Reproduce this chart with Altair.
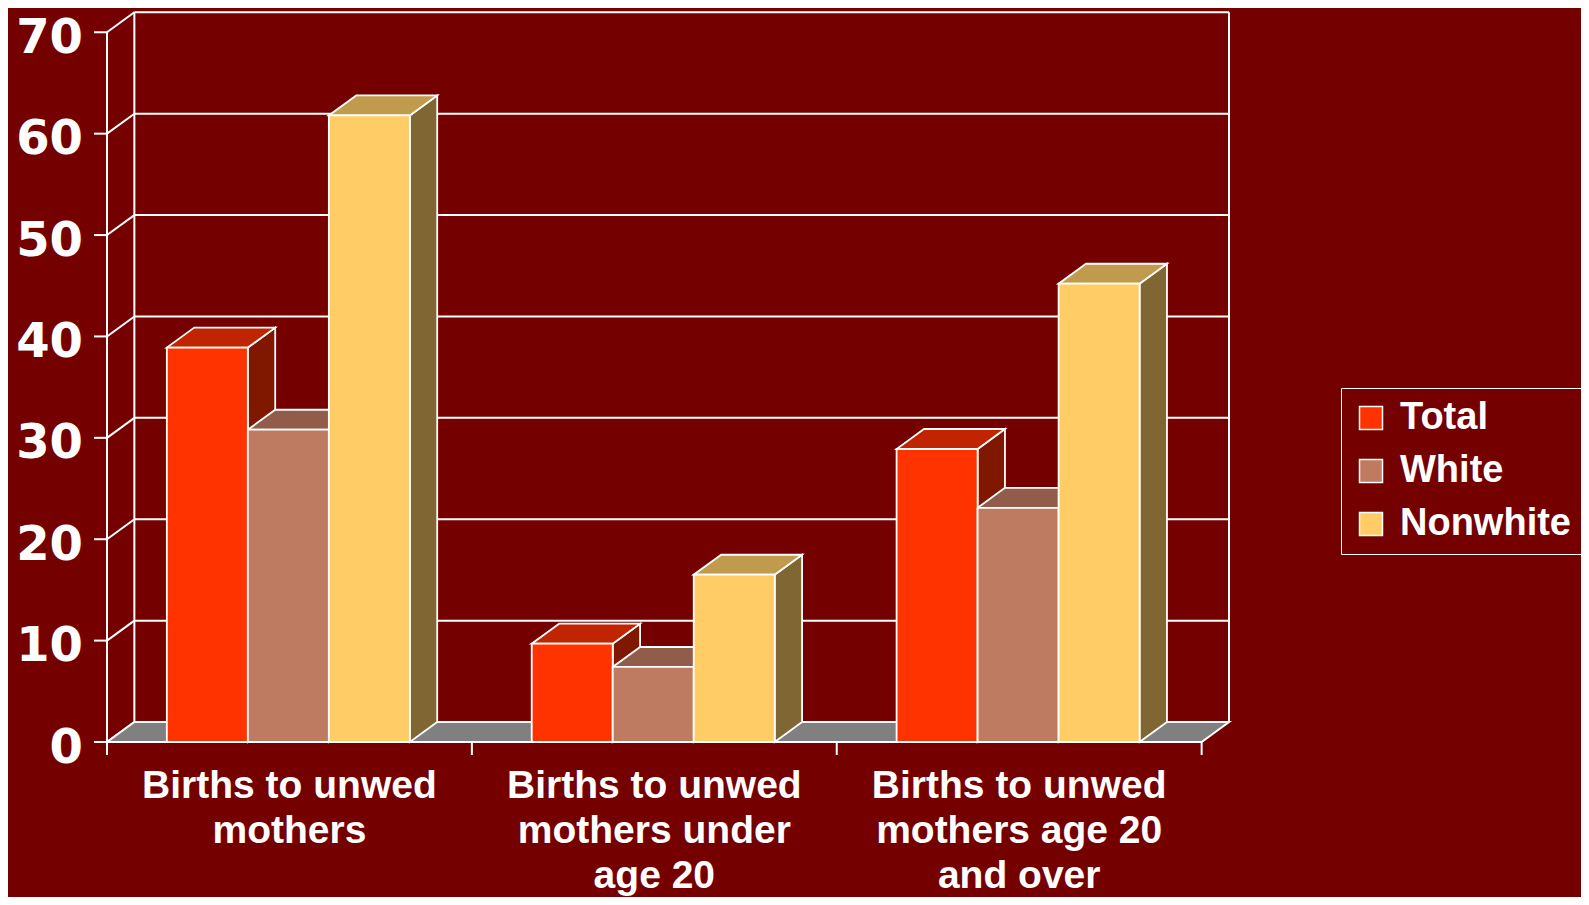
import altair as alt
import pandas as pd

# ---------------- data ----------------
CATEGORIES = [
    "Births to unwed\nmothers",
    "Births to unwed\nmothers under\nage 20",
    "Births to unwed\nmothers age 20\nand over",
]
SERIES = ["Total", "White", "Nonwhite"]
TOTAL = [38.9, 9.7, 28.9]
WHITE = [30.8, 7.4, 23.1]
NONWHITE = [61.8, 16.5, 45.2]
Y_TICKS = [0, 10, 20, 30, 40, 50, 60, 70]

# ---------------- style / layout ----------------
BG = "#740000"
FRONT_COLORS = ["#FF3300", "#BF7A62", "#FFCC66"]
TOP_COLORS = ["#C02400", "#925C4A", "#C09B4E"]
SIDE_COLORS = ["#801800", "#604033", "#806633"]
FLOOR = "#808080"
LINE = "white"
FONT = "Liberation Sans"
NUM_FONT = "DejaVu Sans"

PAD = 0.164      # gap at each side of a group (category units)
BW = 0.222       # bar width (category units)
DXU = 0.075      # depth offset along x (category units)
DYU = 1.97       # depth offset along y (value units)
Y_MAX = 72
X_UNIT = 364.8
PLOT_H = 730

N = len(CATEGORIES)
VALUES = [TOTAL, WHITE, NONWHITE]

front_rows, side_rows, top_rows = [], [], []
for i in range(N):
    for j, s in enumerate(SERIES):
        v = VALUES[j][i]
        x0 = i + PAD + j * BW
        x1 = x0 + BW
        face = f"{i}-{j}"
        front_rows.append(dict(series=s, face=face, x0=x0, x1=x1, v=v, z=0))
        side_rows += [
            dict(series=s, face=face, x=x1, y=v, y2=0),
            dict(series=s, face=face, x=x1 + DXU, y=v + DYU, y2=DYU),
        ]
        top_rows += [
            dict(series=s, face=face, y=v, x=x0, x2=x1),
            dict(series=s, face=face, y=v + DYU, x=x0 + DXU, x2=x1 + DXU),
        ]

front_df = pd.DataFrame(front_rows)
side_df = pd.DataFrame(side_rows)
top_df = pd.DataFrame(top_rows)
floor_df = pd.DataFrame([dict(y=0, x=0, x2=N), dict(y=DYU, x=DXU, x2=N + DXU)])

ymax = Y_TICKS[-1]
wall_rows = []
for t in Y_TICKS:
    wall_rows.append(dict(x=0, x2=DXU, y=t, y2=t + DYU))                # left wall slant
    wall_rows.append(dict(x=DXU, x2=N + DXU, y=t + DYU, y2=t + DYU))    # back grid
wall_rows.append(dict(x=DXU, x2=DXU, y=DYU, y2=ymax + DYU))
wall_rows.append(dict(x=N + DXU, x2=N + DXU, y=DYU, y2=ymax + DYU))
wall_rows.append(dict(x=0, x2=0, y=0, y2=ymax))                        # front axis line
wall_df = pd.DataFrame(wall_rows)

tick_df = pd.DataFrame({"x": list(range(N + 1))})
ytick_df = pd.DataFrame({"t": Y_TICKS, "lab": [str(t) for t in Y_TICKS]})
label_df = pd.DataFrame({"cat": CATEGORIES, "x": [i + 0.5 for i in range(N)]})

XS = alt.Scale(domain=[0, N + DXU], nice=False, zero=False)
YS = alt.Scale(domain=[0, Y_MAX], nice=False, zero=False)

walls = alt.Chart(wall_df).mark_rule(color=LINE, strokeWidth=2).encode(
    x=alt.X("x:Q", scale=XS, axis=None),
    x2="x2:Q",
    y=alt.Y("y:Q", scale=YS, axis=None),
    y2="y2:Q",
)

floor = alt.Chart(floor_df).mark_area(
    color=FLOOR, stroke=LINE, strokeWidth=2, orient="horizontal"
).encode(
    y=alt.Y("y:Q", scale=YS, axis=None),
    x=alt.X("x:Q", scale=XS, axis=None),
    x2="x2:Q",
)

xticks = alt.Chart(tick_df).mark_rule(color=LINE, strokeWidth=2).encode(
    x=alt.X("x:Q", scale=XS, axis=None),
    y=alt.value(PLOT_H),
    y2=alt.value(PLOT_H + 13),
)

yticks = alt.Chart(ytick_df).mark_rule(color=LINE, strokeWidth=2).encode(
    y=alt.Y("t:Q", scale=YS, axis=None),
    x=alt.value(-13),
    x2=alt.value(0),
)

ylabels = alt.Chart(ytick_df).mark_text(
    font=NUM_FONT, fontSize=48, fontWeight="bold", color=LINE,
    align="right", baseline="alphabetic", dy=20.5,
).encode(
    y=alt.Y("t:Q", scale=YS, axis=None),
    x=alt.value(-24),
    text="lab:N",
)

sides = alt.Chart(side_df).mark_area(stroke=LINE, strokeWidth=1.8, opacity=1).encode(
    x=alt.X("x:Q", scale=XS, axis=None),
    y=alt.Y("y:Q", scale=YS, axis=None),
    y2="y2:Q",
    detail="face:N",
    color=alt.Color("series:N", scale=alt.Scale(domain=SERIES, range=SIDE_COLORS), legend=None),
)

tops = alt.Chart(top_df).mark_area(
    stroke=LINE, strokeWidth=1.8, opacity=1, orient="horizontal"
).encode(
    y=alt.Y("y:Q", scale=YS, axis=None),
    x=alt.X("x:Q", scale=XS, axis=None),
    x2="x2:Q",
    detail="face:N",
    color=alt.Color("series:N", scale=alt.Scale(domain=SERIES, range=TOP_COLORS), legend=None),
)

fronts = alt.Chart(front_df).mark_rect(stroke=LINE, strokeWidth=1.8, opacity=1).encode(
    x=alt.X("x0:Q", scale=XS, axis=None),
    x2="x1:Q",
    y=alt.Y("v:Q", scale=YS, axis=None),
    y2="z:Q",
    color=alt.Color(
        "series:N",
        scale=alt.Scale(domain=SERIES, range=FRONT_COLORS),
        legend=alt.Legend(
            title=None, orient="none", legendX=1234, legendY=376,
            symbolType="square", symbolSize=529, symbolStrokeColor=LINE,
            symbolStrokeWidth=1.5, symbolOpacity=1,
            labelFont=FONT, labelFontSize=38, labelFontWeight="bold",
            labelColor=LINE, labelOffset=10, labelLimit=0,
            strokeColor=LINE, padding=11, rowPadding=15,
        ),
    ),
)

labels = alt.Chart(label_df).mark_text(
    font=FONT, fontSize=39, fontWeight="bold", color=LINE,
    align="center", baseline="alphabetic", lineBreak="\n", lineHeight=45,
).encode(
    x=alt.X("x:Q", scale=XS, axis=None),
    y=alt.value(786),
    text="cat:N",
)

chart = (
    alt.layer(walls, floor, xticks, yticks, ylabels, sides, tops, fronts, labels)
    .resolve_scale(color="independent")
    .properties(
        width=round(X_UNIT * (N + DXU)),
        height=PLOT_H,
        autosize=alt.AutoSizeParams(type="none"),
        padding={"left": 99, "top": 4, "right": 352, "bottom": 155},
        background=BG,
    )
    .configure_view(stroke=None)
)

chart.save("out.html", embed_options={"renderer": "svg", "actions": False})
